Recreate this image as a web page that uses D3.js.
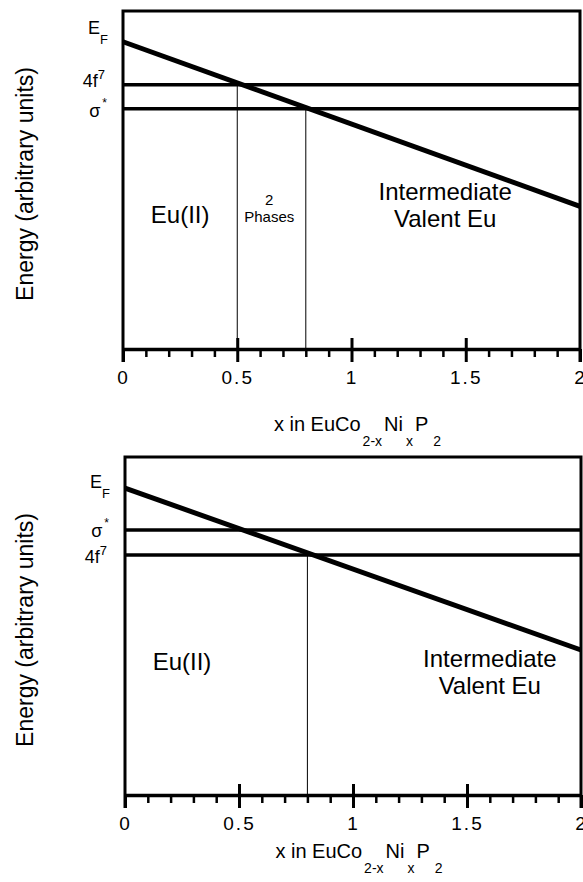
<!DOCTYPE html>
<html>
<head>
<meta charset="utf-8">
<script src="https://cdn.jsdelivr.net/npm/d3@7/dist/d3.min.js"></script>
<style>
  body { margin: 0; background: #fff; }
  svg text { font-family: 'Liberation Sans', Arial, Helvetica, sans-serif; fill: #000; }
</style>
</head>
<body>
<div id="chart"></div>
<script>
// ----------------------------------
// data
// ----------------------------------
const xTickValues = [0, 0.5, 1, 1.5, 2];
const xTickLabels = ['0', '0.5', '1', '1.5', '2'];
const minorTickValues = [0.1, 0.2, 0.3, 0.4, 0.6, 0.7, 0.8, 0.9, 1.1, 1.2, 1.3, 1.4, 1.6, 1.7, 1.8, 1.9];

// top panel
const topFermiX = [0, 2];
const topFermiE = [9.09, 4.22];
const topLevelKeys = ['4f7', 'sigma'];
const topLevelE = [7.82, 7.11];
const topBoundaryX = [0.5, 0.8];
const topBoundaryE = [7.82, 7.11];
const topRegionNames = [['Eu(II)'], ['2', 'Phases'], ['Intermediate', 'Valent Eu']];

// bottom panel
const botFermiX = [0, 2];
const botFermiE = [9.08, 4.29];
const botLevelKeys = ['sigma', '4f7'];
const botLevelE = [7.84, 7.10];
const botBoundaryX = [0.8];
const botBoundaryE = [7.10];
const botRegionNames = [['Eu(II)'], ['Intermediate', 'Valent Eu']];

const W = 583, H = 882;
const svg = d3.select('#chart').append('svg')
  .attr('width', W)
  .attr('height', H);

// layout for each panel (label baselines in px)
const panels = [
  {
    box: {left: 123, right: 580, top: 11, bottom: 349},
    fermiX: topFermiX, fermiE: topFermiE,
    levelKeys: topLevelKeys, levelE: topLevelE,
    boundaryX: topBoundaryX, boundaryE: topBoundaryE,
    regions: topRegionNames,
    regionPos: [{x: 0.25, y: 223, size: 24}, {x: 0.64, y: 205, size: 15, gap: 17}, {x: 1.41, y: 200, size: 24, gap: 27}],
    efDy: -8, levelDy: {'4f7': 2, 'sigma': 8},
    xLabelY: 431
  },
  {
    box: {left: 125, right: 581, top: 457, bottom: 795},
    fermiX: botFermiX, fermiE: botFermiE,
    levelKeys: botLevelKeys, levelE: botLevelE,
    boundaryX: botBoundaryX, boundaryE: botBoundaryE,
    regions: botRegionNames,
    regionPos: [{x: 0.25, y: 670, size: 24}, {x: 1.6, y: 667, size: 24, gap: 27}],
    efDy: 0, levelDy: {'4f7': 8, 'sigma': 7},
    xLabelY: 858
  }
];

panels.forEach(p => drawPanel(p));

function drawPanel(p) {
  const b = p.box;
  const x = d3.scaleLinear().domain([0, 2]).range([b.left, b.right]);
  const y = d3.scaleLinear().domain([0, 10]).range([b.bottom, b.top]);

  const g = svg.append('g');

  // frame: left, top and right borders (left/right run down past the axis)
  g.append('path')
    .attr('d', `M${b.left},${b.bottom + 13}V${b.top}H${b.right}V${b.bottom + 13}`)
    .style('fill', 'none')
    .style('stroke', '#000')
    .style('stroke-width', 3);

  // minor ticks
  const minorAxis = d3.axisBottom(x)
    .tickValues(minorTickValues)
    .tickSize(8)
    .tickFormat('');
  g.append('g')
    .attr('transform', `translate(0,${b.bottom})`)
    .call(minorAxis)
    .call(s => s.select('.domain').remove())
    .selectAll('line').style('stroke-width', 2.5);

  // major ticks + labels
  const majorAxis = d3.axisBottom(x)
    .tickValues(xTickValues)
    .tickSize(13)
    .tickSizeOuter(0)
    .tickFormat((d, i) => xTickLabels[i]);
  const ax = g.append('g')
    .attr('transform', `translate(0,${b.bottom})`)
    .call(majorAxis);
  ax.select('.domain').style('stroke-width', 3.5);
  ax.selectAll('.tick line')
    .attr('y1', d => (d > 0 && d < 2) ? -11 : 0)
    .style('stroke-width', 3);
  ax.selectAll('.tick text')
    .attr('y', 35)
    .attr('dy', 0)
    .style('font-size', '19px')
    .style('letter-spacing', '2px');

  // thin phase boundaries
  g.selectAll('.boundary')
    .data(p.boundaryX)
    .enter().append('line')
    .attr('class', 'boundary')
    .attr('x1', d => x(d))
    .attr('x2', d => x(d))
    .attr('y1', (d, i) => y(p.boundaryE[i]))
    .attr('y2', b.bottom)
    .style('stroke', '#000')
    .style('stroke-width', 1);

  // 4f7 and sigma* levels
  g.selectAll('.level')
    .data(p.levelE)
    .enter().append('line')
    .attr('class', 'level')
    .attr('x1', x(0))
    .attr('x2', x(2))
    .attr('y1', d => y(d))
    .attr('y2', d => y(d))
    .style('stroke', '#000')
    .style('stroke-width', 3.5);

  // Fermi level
  const fermi = p.fermiX.map((v, i) => ({x: v, e: p.fermiE[i]}));
  g.append('path')
    .datum(fermi)
    .attr('d', d3.line().x(d => x(d.x)).y(d => y(d.e)))
    .style('fill', 'none')
    .style('stroke', '#000')
    .style('stroke-width', 5);

  // level names on the left
  const lx = b.left - 15;
  const ef = g.append('text')
    .attr('x', lx)
    .attr('y', y(p.fermiE[0]) + p.efDy)
    .attr('text-anchor', 'end')
    .style('font-size', '18px');
  ef.append('tspan').text('E');
  ef.append('tspan').attr('dy', 10).style('font-size', '13px').text('F');

  p.levelKeys.forEach((k, i) => {
    const t = g.append('text')
      .attr('x', lx - (k === 'sigma' ? 1 : 3))
      .attr('y', y(p.levelE[i]) + p.levelDy[k])
      .attr('text-anchor', 'end')
      .style('font-size', '18px');
    if (k === '4f7') {
      t.append('tspan').text('4f');
      t.append('tspan').attr('dy', -8).style('font-size', '13px').text('7');
    } else {
      t.append('tspan').text('σ');
      t.append('tspan').attr('dy', -10).attr('dx', 2).style('font-size', '12px').text('*');
    }
  });

  // region names (y = baseline of first line)
  p.regions.forEach((lines, i) => {
    const pos = p.regionPos[i];
    lines.forEach((line, j) => {
      g.append('text')
        .attr('x', x(pos.x))
        .attr('y', pos.y + j * (pos.gap || 0))
        .attr('text-anchor', 'middle')
        .style('font-size', pos.size + 'px')
        .text(line);
    });
  });

  // x axis title
  const xt = g.append('text')
    .attr('x', (b.left + b.right) / 2 + 6)
    .attr('y', p.xLabelY)
    .attr('text-anchor', 'middle')
    .style('font-size', '20px');
  xt.append('tspan').text('x in EuCo');
  xt.append('tspan').attr('dy', 15).attr('dx', 2).style('font-size', '14px').text('2-x');
  xt.append('tspan').attr('dy', -15).attr('dx', 2).text('Ni');
  xt.append('tspan').attr('dy', 15).attr('dx', 3).style('font-size', '14px').text('x');
  xt.append('tspan').attr('dy', -15).attr('dx', 2).text('P');
  xt.append('tspan').attr('dy', 15).attr('dx', 5).style('font-size', '14px').text('2');

  // y axis title
  const cy = (b.top + b.bottom) / 2 + 4;
  g.append('text')
    .attr('transform', `translate(33,${cy}) rotate(-90)`)
    .attr('text-anchor', 'middle')
    .style('font-size', '23px')
    .text('Energy (arbitrary units)');
}
</script>
</body>
</html>
